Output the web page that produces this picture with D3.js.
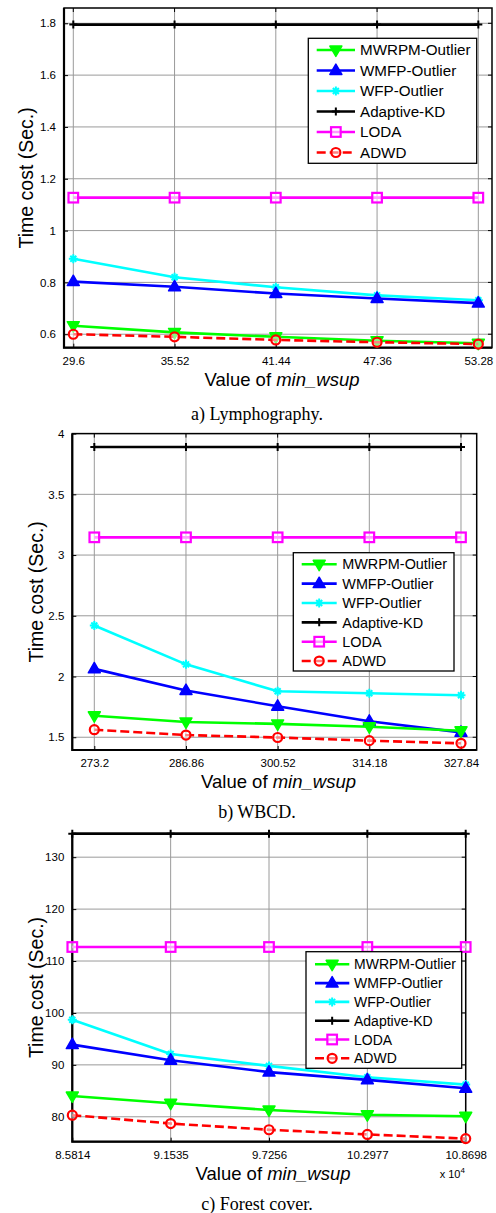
<!DOCTYPE html>
<html><head><meta charset="utf-8">
<script src="https://cdn.jsdelivr.net/npm/d3@7"></script>
<style>body{margin:0;background:#fff}svg{display:block}</style>
</head><body>
<svg id="chart" width="496" height="1213"></svg>
<script>
// ---------- DATA ----------
const seriesNames = ["MWRPM-Outlier","WMFP-Outlier","WFP-Outlier","Adaptive-KD","LODA","ADWD"];

// a) Lymphography
const lymphoX = [29.6, 35.52, 41.44, 47.36, 53.28];
const lymphoXLabels = ["29.6","35.52","41.44","47.36","53.28"];
const lymphoYTicks = [0.6, 0.8, 1, 1.2, 1.4, 1.6, 1.8];
const lymphoMWRPM = [0.633, 0.607, 0.590, 0.575, 0.565];
const lymphoWMFP  = [0.803, 0.783, 0.757, 0.738, 0.720];
const lymphoWFP   = [0.891, 0.820, 0.781, 0.750, 0.731];
const lymphoAKD   = [1.795, 1.795, 1.795, 1.795, 1.795];
const lymphoLODA  = [1.127, 1.127, 1.127, 1.127, 1.127];
const lymphoADWD  = [0.600, 0.590, 0.578, 0.569, 0.562];

// b) WBCD
const wbcdX = [273.2, 286.86, 300.52, 314.18, 327.84];
const wbcdXLabels = ["273.2","286.86","300.52","314.18","327.84"];
const wbcdYTicks = [1.5, 2, 2.5, 3, 3.5, 4];
const wbcdMWRPM = [1.677, 1.626, 1.610, 1.586, 1.553];
const wbcdWMFP  = [2.063, 1.885, 1.755, 1.632, 1.540];
const wbcdWFP   = [2.420, 2.100, 1.879, 1.862, 1.846];
const wbcdAKD   = [3.890, 3.890, 3.890, 3.890, 3.890];
const wbcdLODA  = [3.146, 3.146, 3.146, 3.146, 3.146];
const wbcdADWD  = [1.562, 1.518, 1.498, 1.472, 1.450];

// c) Forest cover (x in units of 10^4)
const forestX = [8.5814, 9.1535, 9.7256, 10.2977, 10.8698];
const forestXLabels = ["8.5814","9.1535","9.7256","10.2977","10.8698"];
const forestYTicks = [80, 90, 100, 110, 120, 130];
const forestMWRPM = [84.0, 82.6, 81.3, 80.4, 80.1];
const forestWMFP  = [93.9, 90.9, 88.6, 87.1, 85.5];
const forestWFP   = [98.7, 92.1, 89.8, 87.6, 86.2];
const forestAKD   = [134.5, 134.5, 134.5, 134.5, 134.5];
const forestLODA  = [112.7, 112.7, 112.7, 112.7, 112.7];
const forestADWD  = [80.3, 78.7, 77.5, 76.6, 75.8];

// ---------- STYLE / LAYOUT ----------
const styles = [
  {color:"#00ff00", marker:"tridown", dash:null},
  {color:"#0000ff", marker:"triup", dash:null},
  {color:"#00ffff", marker:"star", dash:null},
  {color:"#000000", marker:"plus", dash:null},
  {color:"#ff00ff", marker:"square", dash:null},
  {color:"#ff0000", marker:"circle", dash:"9,4"}
];

const panels = [
  {x:lymphoX, xl:lymphoXLabels, yt:lymphoYTicks,
   series:[lymphoMWRPM,lymphoWMFP,lymphoWFP,lymphoAKD,lymphoLODA,lymphoADWD],
   L:64, R:492, T:8, B:347.7, xd:[29.056,54.08], yd:[0.548,1.859],
   ylabX:33, caption:"a) Lymphography.", capY:420,
   leg:{x0:308.3,x1:476.7,y0:38.3,y1:163.3,r0:50,dr:20.5,l0:316.7,l1:355,tx:360,fs:15.2}},
  {x:wbcdX, xl:wbcdXLabels, yt:wbcdYTicks,
   series:[wbcdMWRPM,wbcdWMFP,wbcdWFP,wbcdAKD,wbcdLODA,wbcdADWD],
   L:72.3, R:476.7, T:433.6, B:750, xd:[269.92,330.18], yd:[1.395,4],
   ylabX:43, caption:"b) WBCD.", capY:818,
   leg:{x0:293.3,x1:454,y0:552.7,y1:671,r0:564.3,dr:19.35,l0:301.7,l1:336.7,tx:342.3,fs:14.4}},
  {x:forestX, xl:forestXLabels, yt:forestYTicks,
   series:[forestMWRPM,forestWMFP,forestWFP,forestAKD,forestLODA,forestADWD],
   L:72.3, R:465.7, T:833.3, B:1141.7, xd:[8.5814,10.8698], yd:[75.2,134.6],
   ylabX:43, caption:"c) Forest cover.", capY:1210, exp:true,
   leg:{x0:306,x1:461.7,y0:951.7,y1:1068.3,r0:964.3,dr:18.8,l0:315,l1:349.3,tx:354,fs:14}}
];

const svg = d3.select("#chart");
const SANS = "Arial, 'Liberation Sans', Helvetica, sans-serif";
const SERIF = "'Times New Roman', 'Liberation Serif', serif";

function drawMarker(g, type, cx, cy, color){
  const sw = 2.2;
  if(type==="triup" || type==="tridown"){
    const s = 12, h = s*Math.sqrt(3)/2;
    const dir = type==="triup" ? 1 : -1;
    const pts = [[cx, cy - dir*h*0.62],[cx - s/2, cy + dir*h*0.38],[cx + s/2, cy + dir*h*0.38]];
    g.append("path").attr("d","M"+pts.map(p=>p.join(",")).join("L")+"Z")
      .attr("fill",color).attr("stroke",color).attr("stroke-width",1.5).attr("stroke-linejoin","round");
  } else if(type==="square"){
    g.append("rect").attr("x",cx-4.8).attr("y",cy-4.8).attr("width",9.6).attr("height",9.6)
      .attr("fill","#fff").attr("fill-opacity",0.6).attr("stroke",color).attr("stroke-width",sw);
  } else if(type==="circle"){
    g.append("circle").attr("cx",cx).attr("cy",cy).attr("r",4.5)
      .attr("fill","#fff").attr("fill-opacity",0.5).attr("stroke",color).attr("stroke-width",sw);
  } else if(type==="star"){
    const r = 4.5, d = 3;
    g.append("path").attr("d",`M${cx-r},${cy}L${cx+r},${cy}M${cx},${cy-r}L${cx},${cy+r}M${cx-d},${cy-d}L${cx+d},${cy+d}M${cx-d},${cy+d}L${cx+d},${cy-d}`)
      .attr("stroke",color).attr("stroke-width",2).attr("fill","none");
  } else if(type==="plus"){
    const r = 4;
    g.append("path").attr("d",`M${cx-r},${cy}L${cx+r},${cy}M${cx},${cy-r}L${cx},${cy+r}`)
      .attr("stroke",color).attr("stroke-width",2).attr("fill","none");
  }
}

panels.forEach(p => {
  const x = d3.scaleLinear().domain(p.xd).range([p.L, p.R]);
  const y = d3.scaleLinear().domain(p.yd).range([p.B, p.T]);
  const g = svg.append("g");

  // grid
  g.append("g").selectAll("line").data(p.x).join("line")
    .attr("x1",d=>x(d)).attr("x2",d=>x(d)).attr("y1",p.T).attr("y2",p.B)
    .attr("stroke","#9a9a9a").attr("stroke-width",1);
  g.append("g").selectAll("line").data(p.yt).join("line")
    .attr("x1",p.L).attr("x2",p.R).attr("y1",d=>y(d)).attr("y2",d=>y(d))
    .attr("stroke","#9a9a9a").attr("stroke-width",1);

  // axes via d3 axis (ticks inward)
  const xAxis = d3.axisBottom(x).tickValues(p.x).tickFormat((d,i)=>p.xl[i]).tickSizeInner(-4).tickSizeOuter(0).tickPadding(9);
  const yAxis = d3.axisLeft(y).tickValues(p.yt).tickFormat(d3.format("~g")).tickSizeInner(-4).tickSizeOuter(0).tickPadding(8);
  const ax = g.append("g").attr("transform",`translate(0,${p.B})`).call(xAxis);
  const ay = g.append("g").attr("transform",`translate(${p.L},0)`).call(yAxis);
  [ax, ay].forEach(a => {
    a.select(".domain").remove();
    a.selectAll("line").attr("stroke","#000").attr("stroke-width",1);
    a.selectAll("text").attr("font-family",SANS).attr("font-size",11.5).attr("fill","#000");
  });
  // right and top ticks
  g.append("g").selectAll("line").data(p.yt).join("line")
    .attr("x1",p.R).attr("x2",p.R-4).attr("y1",d=>y(d)).attr("y2",d=>y(d)).attr("stroke","#000");
  g.append("g").selectAll("line").data(p.x).join("line")
    .attr("x1",d=>x(d)).attr("x2",d=>x(d)).attr("y1",p.T).attr("y2",p.T+4).attr("stroke","#000");

  // box
  g.append("rect").attr("x",p.L).attr("y",p.T).attr("width",p.R-p.L).attr("height",p.B-p.T)
    .attr("fill","none").attr("stroke","#000").attr("stroke-width",1.5);
  g.append("path").attr("d",`M${p.L},${p.T}L${p.L},${p.B}L${p.R},${p.B}`)
    .attr("fill","none").attr("stroke","#000").attr("stroke-width",2.2);

  // series
  const line = d3.line().x((d,i)=>x(p.x[i])).y(d=>y(d));
  const order = [4,3,2,1,0,5];
  order.forEach(si => {
    const st = styles[si], vals = p.series[si];
    const sg = g.append("g");
    sg.append("path").datum(vals).attr("d",line).attr("fill","none")
      .attr("stroke",st.color).attr("stroke-width",2.6)
      .attr("stroke-dasharray",st.dash).attr("stroke-linejoin","round");
    vals.forEach((v,i)=>drawMarker(sg, st.marker, x(p.x[i]), y(v), st.color));
  });

  // labels
  g.append("text").attr("transform",`translate(${p.ylabX},${(p.T+p.B)/2}) rotate(-90)`)
    .attr("text-anchor","middle").attr("font-family",SANS).attr("font-size",19.5)
    .text("Time cost (Sec.)");
  const xl = g.append("text").attr("x",(p.L+p.R)/2 + 4).attr("y",p.B+38)
    .attr("text-anchor","middle").attr("font-family",SANS).attr("font-size",18.5);
  xl.append("tspan").text("Value of ");
  xl.append("tspan").attr("font-style","italic").text("min_wsup");
  if(p.exp){
    const e = g.append("text").attr("x",p.R-26).attr("y",p.B+36).attr("font-family",SANS).attr("font-size",11);
    e.append("tspan").text("x 10");
    e.append("tspan").attr("dy",-5).attr("font-size",8).text("4");
  }
  g.append("text").attr("x",257).attr("y",p.capY).attr("text-anchor","middle")
    .attr("font-family",SERIF).attr("font-size",18).text(p.caption);

  // legend
  const lg = p.leg;
  const leg = g.append("g");
  leg.append("rect").attr("x",lg.x0).attr("y",lg.y0).attr("width",lg.x1-lg.x0).attr("height",lg.y1-lg.y0)
    .attr("fill","#fff").attr("stroke","#000").attr("stroke-width",1.3);
  seriesNames.forEach((nm,i) => {
    const cy = lg.r0 + i*lg.dr, st = styles[i];
    leg.append("line").attr("x1",lg.l0).attr("x2",lg.l1).attr("y1",cy).attr("y2",cy)
      .attr("stroke",st.color).attr("stroke-width",2.6).attr("stroke-dasharray",st.dash);
    drawMarker(leg, st.marker, (lg.l0+lg.l1)/2, cy, st.color);
    leg.append("text").attr("x",lg.tx).attr("y",cy).attr("dy","0.36em")
      .attr("font-family",SANS).attr("font-size",lg.fs).text(nm);
  });
});
</script>
</body></html>
